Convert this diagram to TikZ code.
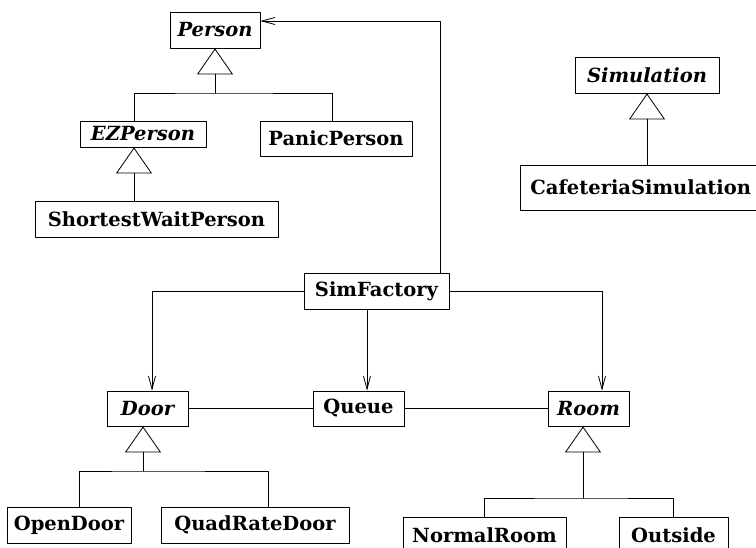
\documentclass[tikz,border=0pt]{standalone}
\usepackage{fontspec}
\setmainfont{DejaVu Serif}
\usetikzlibrary{arrows.meta}

\tikzset{
    umlclass/.style={draw, line width=0.8pt, inner sep=0pt, minimum height=36pt,
        font=\fontsize{19.5}{22}\selectfont\bfseries},
    abstract/.style={umlclass, font=\fontsize{19.5}{22}\selectfont\bfseries\itshape},
    isa/.style={line width=0.8pt, -{Triangle[open, length=26pt, width=36pt]}},
    nav/.style={line width=0.8pt, -{Straight Barb[length=13pt, width=7pt]}},
    plain/.style={line width=0.8pt}
}

\begin{document}
\begin{tikzpicture}[line cap=round, line join=round, x=1pt, y=-1pt]

            \useasboundingbox (0,0) rectangle (756,548);

            % people
            \node[abstract, minimum width=90pt] (Person) at (215,30) {Person};
            \node[abstract, minimum width=126pt, minimum height=26pt] (EZPerson) at (143,134) {EZPerson};
            \node[umlclass, minimum width=152pt, minimum height=35pt] (PanicPerson) at (336,138.5) {PanicPerson};
            \node[umlclass, minimum width=243pt] (ShortestWaitPerson) at (156.5,219) {ShortestWaitPerson};

            % simulation
            \node[abstract, minimum width=144pt] (Simulation) at (647,75) {Simulation};
            \node[umlclass, minimum height=45pt, inner xsep=10pt, text width=250pt, align=left, anchor=west] (CafeteriaSimulation) at (520,187.5) {CafeteriaSimulation};

            % factory and products
            \node[umlclass, minimum width=145pt] (SimFactory) at (376.5,291) {SimFactory};
            \node[abstract, minimum width=81pt, minimum height=35pt] (Door) at (147.5,408.5) {Door};
            \node[umlclass, minimum width=91pt, minimum height=35pt] (Queue) at (358.5,408.5) {Queue};
            \node[abstract, minimum width=81pt, minimum height=35pt] (Room) at (588.5,408.5) {Room};

            \node[umlclass, minimum width=124pt] (OpenDoor) at (69,525) {OpenDoor};
            \node[umlclass, minimum width=188pt] (QuadRateDoor) at (255,525) {QuadRateDoor};
            \node[umlclass, minimum width=163pt] (NormalRoom) at (484.5,535) {NormalRoom};
            \node[umlclass, minimum width=109pt] (Outside) at (673.5,535) {Outside};

            \coordinate (jPerson) at (215,93);
            \coordinate (jDoor) at (143,471);
            \coordinate (jRoom) at (583,498);

            % generalisation
            \draw[isa] (jPerson) -- (Person.south);
            \draw[plain] ([xshift=-9pt]EZPerson.north) |- (jPerson) -| ([xshift=-4pt]PanicPerson.north);
            \draw[isa] ([xshift=-22.5pt]ShortestWaitPerson.north) -- ([xshift=-9pt]EZPerson.south);
            \draw[isa] (CafeteriaSimulation.north -| Simulation.south) -- (Simulation.south);
            \draw[isa] (jDoor) -- ([xshift=-4.5pt]Door.south);
            \draw[plain] ([xshift=10pt]OpenDoor.north) |- (jDoor) -| ([xshift=13pt]QuadRateDoor.north);
            \draw[isa] (jRoom) -- ([xshift=-5.5pt]Room.south);
            \draw[plain] (NormalRoom.north) |- (jRoom) -| (Outside.north);

            % navigation
            \draw[nav] ([xshift=63.5pt]SimFactory.north) |- ([yshift=9pt]Person.east);
            \draw[nav] (SimFactory.west) -| ([xshift=4.5pt]Door.north);
            \draw[nav] ([xshift=-9.5pt]SimFactory.south) -- ([xshift=8.5pt]Queue.north);
            \draw[nav] (SimFactory.east) -| ([xshift=13.5pt]Room.north);

            % association
            \draw[plain] (Door.east) -- (Queue.west);
            \draw[plain] (Queue.east) -- (Room.west);

\end{tikzpicture}
\end{document}
